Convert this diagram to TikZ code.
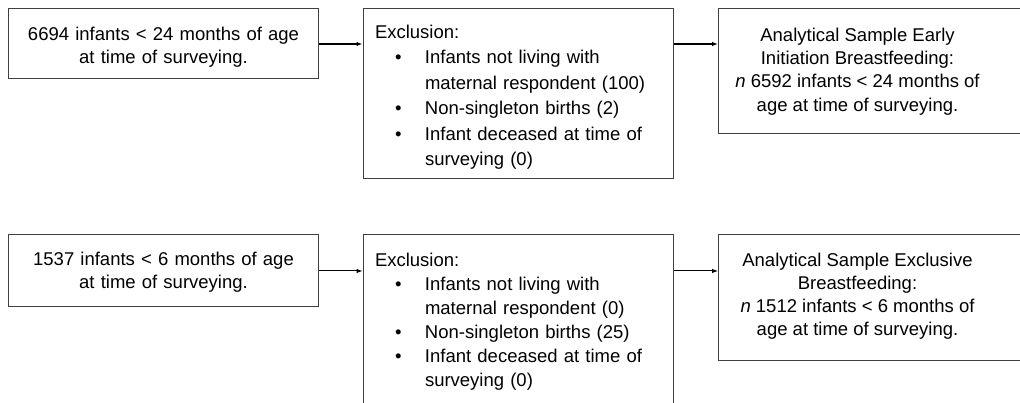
\documentclass[tikz,border=0pt]{standalone}
\usepackage{fontspec}
\setmainfont{Liberation Sans}
\usetikzlibrary{arrows.meta}
\newcommand{\bitem}[1]{\hspace*{20pt}\makebox[30pt][l]{•}#1}
\newcommand{\bcont}[1]{\hspace*{50pt}#1}
\begin{document}
\begin{tikzpicture}[x=1pt,y=1pt,
  box/.style={draw=black!75, line width=1pt, rectangle, inner ysep=0pt},
  flowarrow/.style={-{Latex[length=6pt,width=4.5pt]}, black},
]
\useasboundingbox (0,0) rectangle (1020,-403);
% top row
\node[box, minimum width=310pt, minimum height=70pt, text width=300pt, inner xsep=5pt, align=center,
      font=\fontsize{18.5}{23}\selectfont] (A) at (163.5,-44)
  {\rule{0pt}{19pt}6694 infants < 24 months of age\\at time of surveying.};
\node[box, minimum width=310pt, minimum height=170pt, text width=286pt, inner xsep=12pt, align=left,
      font=\fontsize{18.5}{25.4}\selectfont] (B) at (518,-94)
  {\rule{0pt}{20pt}Exclusion:\\
   \bitem{Infants not living with}\\
   \bcont{maternal respondent (100)}\\
   \bitem{Non-singleton births (2)}\\
   \bitem{Infant deceased at time of}\\
   \bcont{surveying (0)}};
\node[box, anchor=west, minimum width=320pt, minimum height=125pt, inner xsep=0pt] (C) at (718,-71.5)
  {\parbox[c]{278pt}{\fontsize{18.5}{23.4}\selectfont\centering
   Analytical Sample Early\\
   Initiation Breastfeeding:\\
   \textit{n} 6592 infants < 24 months of\\
   age at time of surveying.}\hspace*{42pt}};
% bottom row
\node[box, minimum width=310pt, minimum height=72pt, text width=300pt, inner xsep=5pt, align=center,
      font=\fontsize{18.5}{23}\selectfont] (D) at (163.5,-271)
  {\rule{0pt}{16pt}1537 infants < 6 months of age\\at time of surveying.};
\node[box, minimum width=310pt, minimum height=170pt, text width=286pt, inner xsep=12pt, align=left,
      font=\fontsize{18.5}{24}\selectfont] (E) at (518,-320)
  {\rule{0pt}{16pt}Exclusion:\\
   \bitem{Infants not living with}\\
   \bcont{maternal respondent (0)}\\
   \bitem{Non-singleton births (25)}\\
   \bitem{Infant deceased at time of}\\
   \bcont{surveying (0)}};
\node[box, anchor=west, minimum width=320pt, minimum height=125pt, inner xsep=0pt] (F) at (718,-297.5)
  {\parbox[c]{278pt}{\fontsize{18.5}{23}\selectfont\centering
   Analytical Sample Exclusive\\
   Breastfeeding:\\
   \textit{n} 1512 infants < 6 months of\\
   age at time of surveying.\rule[-6pt]{0pt}{6pt}}\hspace*{42pt}};
% connectors
\draw[flowarrow, line width=1.6pt] (A.east) -- (B.west |- A.east);
\draw[flowarrow, line width=1.6pt] (B.east |- A.east) -- (C.west |- A.east);
\draw[flowarrow, line width=1pt] (D.east) -- (E.west |- D.east);
\draw[flowarrow, line width=1pt] (E.east |- D.east) -- (F.west |- D.east);
\end{tikzpicture}
\end{document}
